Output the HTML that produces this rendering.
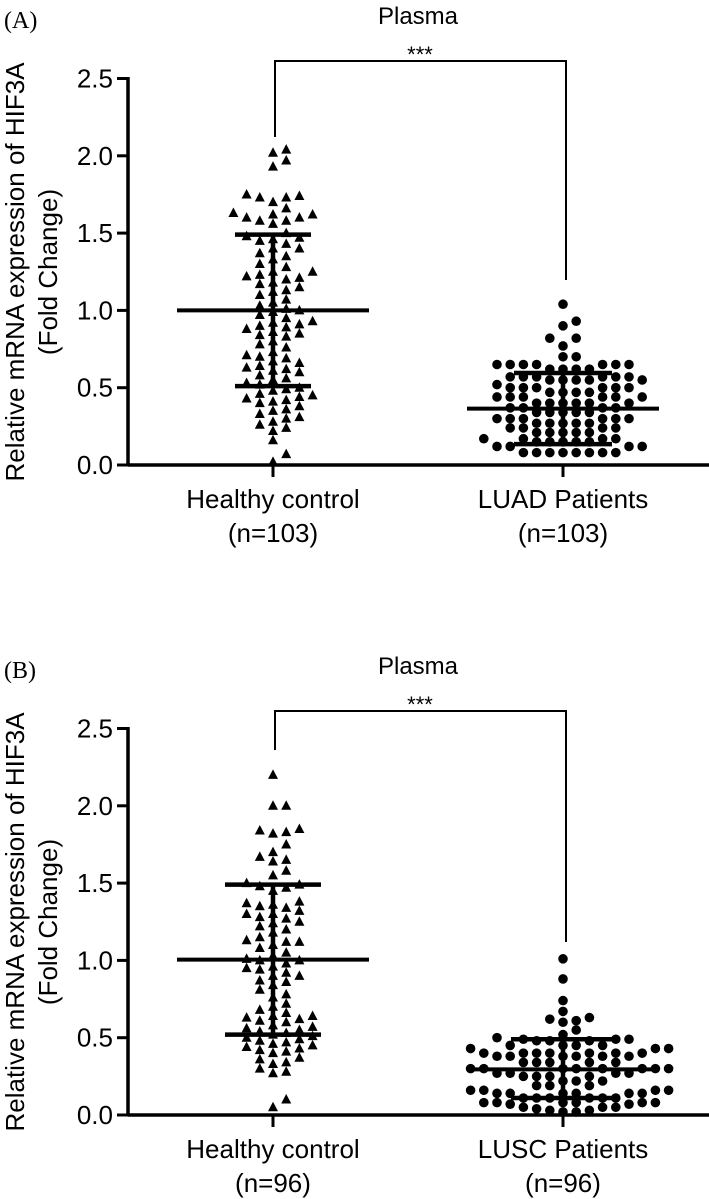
<!DOCTYPE html>
<html><head><meta charset="utf-8"><style>
html,body{margin:0;padding:0;background:#fff;}
svg{display:block;}
text{font-family:"Liberation Sans",Arial,sans-serif;fill:#000;}
text.serif{font-family:"Liberation Serif","Times New Roman",serif;}
</style></head><body>
<svg id="fig" width="709" height="1199" viewBox="0 0 709 1199" xmlns="http://www.w3.org/2000/svg"></svg>
<script>
// ---------- DATA ----------
const yTicks = [0, 0.5, 1.0, 1.5, 2.0, 2.5];
const yTickLabels = ["0.0", "0.5", "1.0", "1.5", "2.0", "2.5"];
const catsA = ["Healthy control", "LUAD Patients"];
const nLabelsA = ["(n=103)", "(n=103)"];
const catsB = ["Healthy control", "LUSC Patients"];
const nLabelsB = ["(n=96)", "(n=96)"];
const meansA = [1.00, 0.365];
const lowerA = [0.51, 0.135];
const upperA = [1.49, 0.595];
const meansB = [1.005, 0.295];
const lowerB = [0.52, 0.11];
const upperB = [1.49, 0.49];
const healthyA = [2.04,2.02,1.97,1.93,1.75,1.73,1.73,1.74,1.70,1.66,1.63,1.62,1.62,1.60,1.60,1.58,1.58,1.56,1.50,1.48,1.46,1.45,1.43,1.40,1.37,1.35,1.33,1.30,1.28,1.25,1.25,1.23,1.22,1.20,1.18,1.17,1.15,1.13,1.10,1.07,1.05,1.03,1.01,1.00,0.99,0.97,0.95,0.93,0.91,0.90,0.89,0.88,0.86,0.85,0.83,0.80,0.78,0.76,0.73,0.71,0.69,0.67,0.66,0.63,0.61,0.60,0.58,0.56,0.55,0.53,0.52,0.50,0.49,0.48,0.46,0.45,0.44,0.42,0.41,0.40,0.38,0.36,0.35,0.33,0.31,0.30,0.28,0.26,0.24,0.22,0.16,0.07,0.02,1.12,0.92,0.64,1.21,0.43,1.47,0.84,0.62,1.40,0.70];
const luad = [1.04,0.93,0.90,0.82,0.82,0.77,0.70,0.70,0.65,0.65,0.65,0.65,0.65,0.65,0.65,0.62,0.62,0.62,0.62,0.57,0.57,0.57,0.57,0.57,0.57,0.55,0.55,0.55,0.55,0.55,0.52,0.50,0.50,0.50,0.50,0.50,0.50,0.47,0.47,0.47,0.47,0.44,0.44,0.44,0.44,0.44,0.44,0.40,0.40,0.40,0.40,0.40,0.40,0.37,0.37,0.37,0.37,0.34,0.34,0.34,0.34,0.34,0.30,0.30,0.30,0.30,0.30,0.30,0.27,0.27,0.27,0.27,0.27,0.24,0.24,0.24,0.24,0.21,0.21,0.21,0.21,0.21,0.17,0.17,0.17,0.17,0.15,0.15,0.15,0.15,0.15,0.12,0.12,0.12,0.12,0.08,0.08,0.08,0.08,0.08,0.08,0.08,0.08];
const healthyB = [2.20,2.00,2.00,1.85,1.83,1.82,1.84,1.75,1.70,1.67,1.65,1.64,1.58,1.55,1.50,1.49,1.48,1.47,1.45,1.37,1.36,1.35,1.34,1.32,1.30,1.30,1.27,1.25,1.24,1.22,1.20,1.18,1.15,1.12,1.12,1.10,1.08,1.05,1.03,1.01,1.00,1.00,0.98,0.96,0.94,0.92,0.90,0.90,0.87,0.84,0.81,0.78,0.76,0.72,0.68,0.66,0.64,0.64,0.63,0.62,0.61,0.60,0.57,0.56,0.55,0.54,0.53,0.52,0.51,0.50,0.49,0.48,0.47,0.46,0.45,0.44,0.43,0.41,0.40,0.37,0.36,0.34,0.33,0.30,0.28,0.27,0.10,0.05,1.13,0.95,1.28,0.70,0.58,1.38,0.86,0.42];
const lusc = [1.01,0.88,0.74,0.67,0.63,0.61,0.60,0.62,0.55,0.52,0.50,0.49,0.49,0.49,0.48,0.48,0.48,0.45,0.45,0.45,0.45,0.43,0.43,0.43,0.40,0.40,0.40,0.40,0.40,0.40,0.40,0.38,0.38,0.38,0.38,0.38,0.38,0.34,0.34,0.34,0.34,0.34,0.30,0.30,0.30,0.30,0.30,0.30,0.30,0.30,0.27,0.27,0.27,0.27,0.25,0.25,0.25,0.25,0.22,0.22,0.22,0.19,0.19,0.19,0.16,0.16,0.16,0.16,0.14,0.14,0.14,0.14,0.14,0.14,0.11,0.11,0.11,0.11,0.11,0.11,0.08,0.08,0.08,0.08,0.08,0.08,0.07,0.07,0.05,0.05,0.05,0.04,0.03,0.03,0.02,0.02];

// ---------- DRAW ----------
const NS = "http://www.w3.org/2000/svg";
const svg = document.getElementById("fig");
function mk(tag, attrs, parent) {
  const e = document.createElementNS(NS, tag);
  for (const k in attrs) e.setAttribute(k, attrs[k]);
  (parent || svg).appendChild(e);
  return e;
}

function drawPanel(o) {
  const g = mk("g", {});
  
  
  const y0 = o.y0, axX = 128, unit = 154.6;
  const yScale = v => y0 - v * unit;
  const xCenters = [273, 563];

  let t = mk("text", {x: 4, y: o.top + 28, "class": "serif", "font-size": 24}, g);
  t.textContent = o.letter;
  
  
  t = mk("text", {x: 418, y: o.top + 24, "text-anchor": "middle", "font-size": 24}, g);
  t.textContent = "Plasma";
  
  

  // y axis title
  const cy = y0 - 193;
  t = mk("text", {x: 0, y: 0, "text-anchor": "middle", "font-size": 26, transform: `translate(24,${cy}) rotate(-90)`}, g);
  t.textContent = "Relative mRNA expression of HIF3A";
  
  
  t = mk("text", {x: 0, y: 0, "text-anchor": "middle", "font-size": 26, transform: `translate(57,${cy}) rotate(-90)`}, g);
  t.textContent = "(Fold Change)";
  
  

  // axes
  let l = mk("line", {x1: axX, y1: yScale(2.5) - 1.5, x2: axX, y2: y0 + 1.5, stroke: "#000", "stroke-width": 3.5}, g);
  
  
  l = mk("line", {x1: axX, y1: y0, x2: 709, y2: y0, stroke: "#000", "stroke-width": 3.5}, g);
  
  
  yTicks.forEach((v, i) => {
    const yy = yScale(v);
    const tk = mk("line", {x1: axX - 11, y1: yy, x2: axX, y2: yy, stroke: "#000", "stroke-width": 3}, g);
    
    
    const tl = mk("text", {x: axX - 15, y: yy + 9, "text-anchor": "end", "font-size": 26}, g);
    tl.textContent = yTickLabels[i];
    
    
  });
  o.cats.forEach((c, i) => {
    const tk = mk("line", {x1: xCenters[i], y1: y0, x2: xCenters[i], y2: y0 + 12, stroke: "#000", "stroke-width": 3}, g);
    
    
    let tl = mk("text", {x: xCenters[i], y: y0 + 43, "text-anchor": "middle", "font-size": 26}, g);
    tl.textContent = c;
    
    
    tl = mk("text", {x: xCenters[i], y: y0 + 77, "text-anchor": "middle", "font-size": 26}, g);
    tl.textContent = o.nLabels[i];
    
    
  });

  // bracket
  const bTop = o.top + 61;
  const br = mk("path", {d: `M${xCenters[0]+2},${o.legL} V${bTop} H${xCenters[1]+3} V${o.legR}`, fill: "none", stroke: "#000", "stroke-width": 2}, g);
  
  
  t = mk("text", {x: 420, y: bTop + 1, "text-anchor": "middle", "font-size": 22}, g);
  t.textContent = "***";
  
  

  // points (beeswarm layout)
  o.series.forEach((vals, si) => {
    const cx = xCenters[si];
    const sorted = vals.slice().sort((a, b) => a - b);
    const placed = [];
    const step = 13.2;
    sorted.forEach(v => {
      const py = yScale(v);
      let px = cx;
      for (let k = 0; k < 40; k++) {
        const off = (k === 0) ? 0 : (k % 2 ? 1 : -1) * Math.ceil(k / 2) * step;
        const cand = cx + off;
        if (!placed.some(p => Math.abs(p[0] - cand) < step - 0.5 && Math.abs(p[1] - py) < 9)) { px = cand; break; }
      }
      placed.push([px, py]);
      let m;
      if (si === 0) {
        m = mk("polygon", {points: `${px},${py-5.5} ${px-5},${py+4} ${px+5},${py+4}`, fill: "#000"}, g);
        
      } else {
        m = mk("circle", {cx: px, cy: py, r: 4.8, fill: "#000"}, g);
        
      }
      
    });
  });

  // mean & SD bars
  o.means.forEach((mv, i) => {
    const cx = xCenters[i];
    const cap = o.caps[i];
    let e = mk("line", {x1: cx, y1: yScale(o.upper[i]), x2: cx, y2: yScale(o.lower[i]), stroke: "#000", "stroke-width": 4.5}, g);
    
    
    e = mk("line", {x1: cx - cap, y1: yScale(o.upper[i]), x2: cx + cap, y2: yScale(o.upper[i]), stroke: "#000", "stroke-width": 4.5}, g);
    
    
    e = mk("line", {x1: cx - cap, y1: yScale(o.lower[i]), x2: cx + cap, y2: yScale(o.lower[i]), stroke: "#000", "stroke-width": 4.5}, g);
    
    
    e = mk("line", {x1: cx - 96, y1: yScale(mv), x2: cx + 96, y2: yScale(mv), stroke: "#000", "stroke-width": 4}, g);
    
    
  });
}

drawPanel({name: "panel-a", letter: "(A)", top: 0, y0: 465, cats: catsA, nLabels: nLabelsA,
  means: meansA, lower: lowerA, upper: upperA, series: [healthyA, luad], caps: [38, 49], legL: 137, legR: 280});
drawPanel({name: "panel-b", letter: "(B)", top: 650, y0: 1115, cats: catsB, nLabels: nLabelsB,
  means: meansB, lower: lowerB, upper: upperB, series: [healthyB, lusc], caps: [48, 52], legL: 750, legR: 942});
</script>
</body></html>
